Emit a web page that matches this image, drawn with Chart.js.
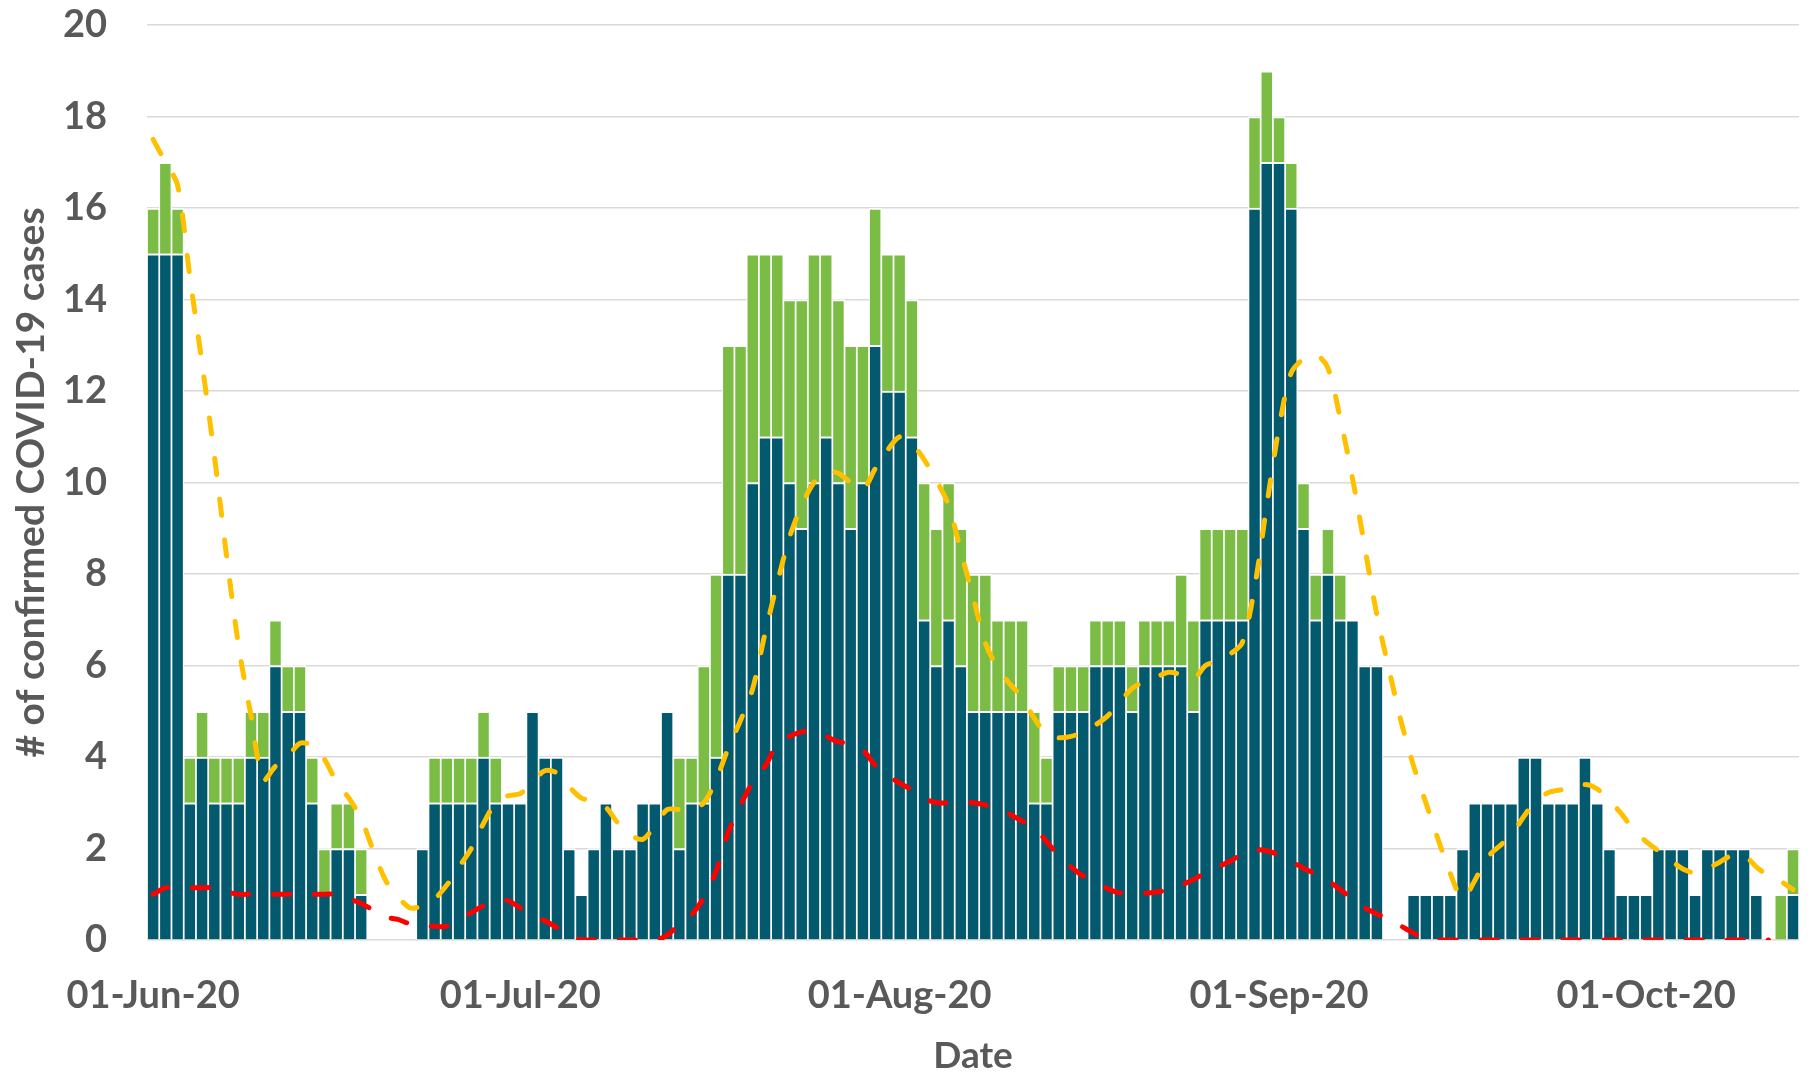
<!DOCTYPE html>
<html>
<head>
<meta charset="utf-8">
<script src="https://cdn.jsdelivr.net/npm/chart.js@4/dist/chart.umd.min.js"></script>
<style>
html,body{margin:0;padding:0;background:#ffffff;}
#wrap{width:1818px;height:1075px;position:relative;}
</style>
</head>
<body>
<div id="wrap"><canvas id="c" width="1818" height="1075"></canvas></div>
<script>
// ---- data ----
const startDate = '2020-06-01';
const tickLabels = ['01-Jun-20', '01-Jul-20', '01-Aug-20', '01-Sep-20', '01-Oct-20'];

const casesDark = [
  15,15,15,3,4,3,3,3,4,4,
  6,5,5,3,1,2,2,1,0,0,
  0,0,2,3,3,3,3,4,3,3,
  3,5,4,4,2,1,2,3,2,2,
  3,3,5,2,3,3,4,8,8,10,
  11,11,10,9,10,11,10,9,10,13,
  12,12,11,7,6,7,6,5,5,5,
  5,5,3,3,5,5,5,6,6,6,
  5,6,6,6,6,5,7,7,7,7,
  16,17,17,16,9,7,8,7,7,6,
  6,0,0,1,1,1,1,2,3,3,
  3,3,4,4,3,3,3,4,3,2,
  1,1,1,2,2,2,1,2,2,2,
  2,1,0,0,1
];

const casesGreen = [
  1,2,1,1,1,1,1,1,1,1,
  1,1,1,1,1,1,1,1,0,0,
  0,0,0,1,1,1,1,1,1,0,
  0,0,0,0,0,0,0,0,0,0,
  0,0,0,2,1,3,4,5,5,5,
  4,4,4,5,5,4,4,4,3,3,
  3,3,3,3,3,3,3,3,3,2,
  2,2,2,1,1,1,1,1,1,1,
  1,1,1,1,2,2,2,2,2,2,
  2,2,1,1,1,1,1,1,0,0,
  0,0,0,0,0,0,0,0,0,0,
  0,0,0,0,0,0,0,0,0,0,
  0,0,0,0,0,0,0,0,0,0,
  0,0,0,1,1
];

const yellowLine = [
  17.5,17.0,16.5,14.5,12.6,10.6,8.4,6.4,4.9,3.5,
  3.8,4.0,4.3,4.25,3.95,3.45,3.1,2.65,1.95,1.3,
  0.95,0.7,0.75,0.9,1.2,1.6,2.0,2.55,3.0,3.15,
  3.2,3.45,3.7,3.65,3.35,3.1,3.05,2.9,2.55,2.3,
  2.2,2.5,2.85,2.85,2.85,3.0,3.5,4.2,4.8,5.5,
  6.7,7.8,8.8,9.5,10.0,10.25,10.2,10.0,9.85,10.3,
  10.7,11.0,10.85,10.5,10.05,9.5,8.5,7.5,6.5,5.95,
  5.6,5.3,4.85,4.5,4.42,4.45,4.55,4.7,4.9,5.2,
  5.5,5.65,5.75,5.85,5.8,5.7,6.0,6.1,6.25,6.5,
  7.7,9.5,11.2,12.4,12.7,12.8,12.5,11.4,10.1,8.6,
  7.1,5.9,4.75,3.8,3.0,2.2,1.45,0.9,1.3,1.8,
  2.05,2.3,2.7,3.05,3.22,3.28,3.3,3.4,3.3,3.05,
  2.75,2.4,2.15,1.95,1.75,1.55,1.47,1.56,1.7,1.85,
  1.85,1.6,1.4,1.28,1.1
];

const redLine = [
  1.0,1.14,1.14,1.14,1.14,1.14,1.05,1.0,1.0,1.0,
  1.0,1.0,1.0,1.0,1.0,1.0,0.9,0.8,0.65,0.5,
  0.45,0.35,0.3,0.3,0.3,0.45,0.6,0.75,0.86,0.86,
  0.7,0.55,0.42,0.27,0.1,0,0,0,0,0,
  0,0,0.1,0.35,0.55,0.93,1.5,2.35,2.95,3.45,
  3.8,4.27,4.45,4.55,4.58,4.45,4.33,4.29,4.15,3.82,
  3.6,3.43,3.28,3.1,3.0,3.0,3.0,3.0,2.95,2.88,
  2.75,2.6,2.48,2.15,1.85,1.6,1.4,1.3,1.12,1.03,
  1.02,1.02,1.05,1.1,1.2,1.32,1.47,1.6,1.72,1.88,
  1.97,1.95,1.86,1.72,1.57,1.44,1.3,1.1,0.9,0.7,
  0.57,0.45,0.3,0.15,0,0,0,0,0,0,
  0,0,0,0,0,0,0,0,0,0,
  0,0,0,0,0,0,0,0,0,0,
  0,0,0,null,null
];

// ---- categories: one per day from startDate ----
const monthNames = ['Jan','Feb','Mar','Apr','May','Jun','Jul','Aug','Sep','Oct','Nov','Dec'];
const categories = (function () {
  const out = [];
  const p = startDate.split('-').map(Number);
  const t0 = Date.UTC(p[0], p[1] - 1, p[2]);
  for (let i = 0; i < casesDark.length; i++) {
    const d = new Date(t0 + i * 86400000);
    out.push(String(d.getUTCDate()).padStart(2, '0') + '-' + monthNames[d.getUTCMonth()] + '-' + String(d.getUTCFullYear()).slice(2));
  }
  return out;
})();

const TEXT = '#595959';
const FONT = 'Lato, "Open Sans", "DejaVu Sans", sans-serif';

new Chart(document.getElementById('c').getContext('2d'), {
  data: {
    labels: categories,
    datasets: [
      {
        type: 'line', label: 'Yellow', data: yellowLine,
        borderColor: '#FFC000', borderWidth: 5, borderDash: [16, 25], borderCapStyle: 'round',
        pointRadius: 0, tension: 0.3, fill: false, spanGaps: false, order: 0, stack: 'lineY'
      },
      {
        type: 'line', label: 'Red', data: redLine,
        borderColor: '#FF0000', borderWidth: 5, borderDash: [16, 25], borderCapStyle: 'round',
        pointRadius: 0, tension: 0.3, fill: false, spanGaps: false, order: 0, stack: 'lineR'
      },
      {
        type: 'bar', label: 'Dark', data: casesDark,
        backgroundColor: '#03596E', borderColor: '#FFFFFF',
        borderWidth: {top: 2, left: 1.2, right: 1.2, bottom: 0}, borderSkipped: 'start',
        barPercentage: 1, categoryPercentage: 1, order: 1, stack: 'bars'
      },
      {
        type: 'bar', label: 'Green', data: casesGreen,
        backgroundColor: '#7BBD44', borderColor: '#FFFFFF',
        borderWidth: {top: 2, left: 1.2, right: 1.2, bottom: 0}, borderSkipped: 'start',
        barPercentage: 1, categoryPercentage: 1, order: 1, stack: 'bars'
      }
    ]
  },
  options: {
    responsive: false,
    animation: false,
    devicePixelRatio: 1,
    layout: {padding: {top: 25, right: 0, bottom: 0, left: 0}},
    plugins: {legend: {display: false}, tooltip: {enabled: false}},
    scales: {
      x: {
        stacked: true, offset: true,
        grid: {display: false}, border: {display: false},
        ticks: {
          autoSkip: false, maxRotation: 0, minRotation: 0, padding: 25,
          color: TEXT, font: {family: FONT, size: 38, weight: 'bold'},
          callback: function (v) {
            const l = this.getLabelForValue(v);
            return tickLabels.indexOf(l) >= 0 ? l : '';
          }
        },
        title: {display: true, text: 'Date', color: TEXT, font: {family: FONT, size: 37, weight: 'bold'}, padding: {top: 0, bottom: -3}},
        afterFit: function (s) { s.height = 135; }
      },
      y: {
        stacked: true, min: 0, max: 20,
        grid: {color: '#D9D9D9', lineWidth: 1.5, drawTicks: false},
        border: {display: false},
        ticks: {stepSize: 2, padding: 40, color: TEXT, font: {family: FONT, size: 38, weight: 'bold'}},
        title: {display: true, text: '# of confirmed COVID-19 cases', color: TEXT, font: {family: FONT, size: 39, weight: 'bold'}, padding: {top: 8, bottom: 0}},
        afterFit: function (s) { s.width = 147; s.paddingTop = 20; s.paddingBottom = 20; }
      }
    }
  }
});
</script>
</body>
</html>
